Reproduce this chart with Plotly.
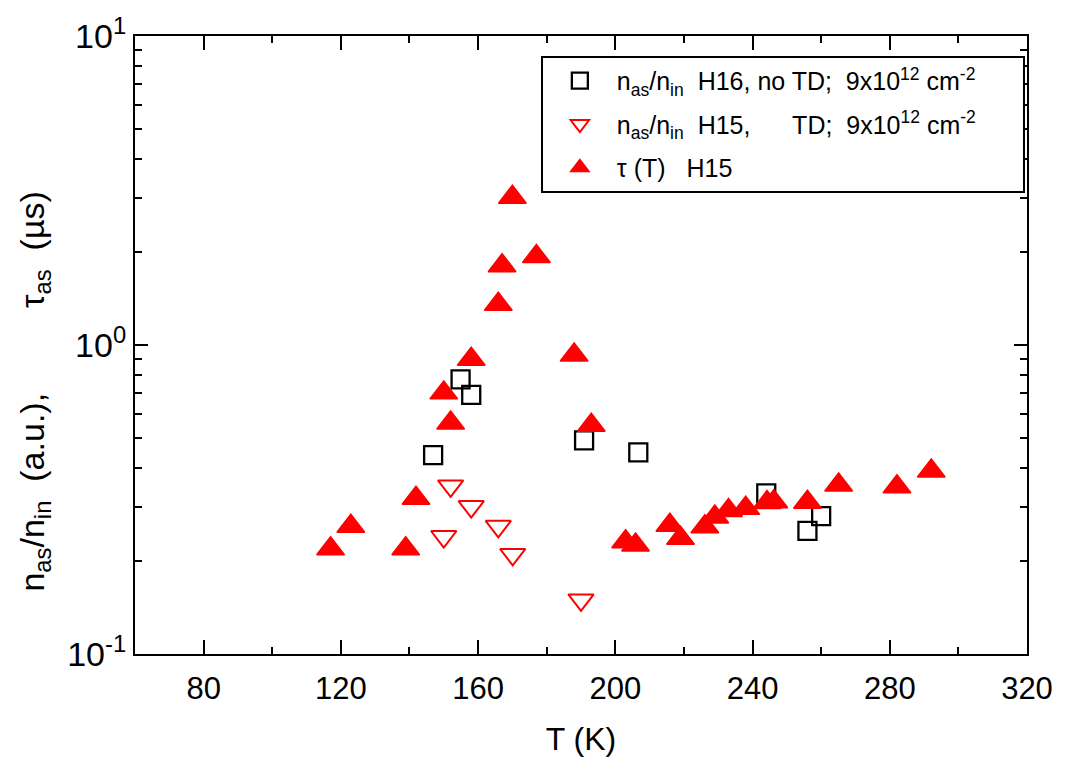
import plotly.graph_objects as go

# --- data ---
T_sq = [154.9, 158.0, 146.9, 190.9, 206.7, 244.0, 260.0, 256.0]
n_sq = [0.774, 0.690, 0.440, 0.491, 0.449, 0.331, 0.2795, 0.2504]

T_tri_down = [152.0, 158.0, 165.9, 150.0, 170.1, 190.0]
n_tri_down = [0.350, 0.300, 0.259, 0.240, 0.210, 0.1496]

T_tau = [117.0, 122.9, 138.9, 141.9, 152.0, 150.0, 158.0, 165.9, 167.0, 177.0,
         170.0, 188.0, 193.0, 203.0, 205.9, 215.9, 219.0, 226.1, 229.0, 233.0,
         238.0, 244.2, 246.2, 256.0, 265.1, 282.1, 292.1]
tau = [0.219, 0.259, 0.219, 0.319, 0.559, 0.700, 0.899, 1.354, 1.806, 1.934,
       3.009, 0.929, 0.550, 0.231, 0.2255, 0.261, 0.237, 0.258, 0.2775, 0.2914,
       0.2963, 0.309, 0.311, 0.310, 0.3525, 0.348, 0.391]

x_major = [80, 120, 160, 200, 240, 280, 320]
x_minor = [100, 140, 180, 220, 260, 300]
y_major = [0.1, 1, 10]
y_major_text = ["10<sup>-1</sup>", "10<sup>0</sup>", "10<sup>1</sup>"]
y_minor = [0.2, 0.3, 0.4, 0.5, 0.6, 0.7, 0.8, 0.9, 2, 3, 4, 5, 6, 7, 8, 9]

NB = "\u00a0"
legend_names = [
    "n<sub>as</sub>/n<sub>in</sub>" + NB * 2 + "H16, no TD;" + NB * 2 + "9x10<sup>12</sup> cm<sup>-2</sup>" + NB * 6,
    "n<sub>as</sub>/n<sub>in</sub>" + NB * 2 + "H15," + NB * 6 + "TD;" + NB * 2 + "9x10<sup>12</sup> cm<sup>-2</sup>",
    "\u03c4 (T)" + NB * 3 + "H15",
]
y_title = ("n<sub>as</sub>/n<sub>in</sub>" + NB * 2 + "(a.u.)," + NB * 9
           + "\u03c4<sub>as</sub>" + NB * 2 + "(\u00b5s)")

FONT = "Liberation Sans, Arial, sans-serif"

fig = go.Figure()
fig.add_trace(go.Scatter(
    x=T_sq, y=n_sq, mode="markers", name=legend_names[0], legendgroup="a",
    marker=dict(symbol="square-open", size=18, color="black", line=dict(width=2.3, color="black")),
))
fig.add_trace(go.Scatter(
    x=T_tri_down, y=n_tri_down, mode="markers", name=legend_names[1], legendgroup="b",
    marker=dict(symbol="triangle-down-open", size=22, color="red", line=dict(width=2, color="red")),
))
fig.add_trace(go.Scatter(
    x=T_tau, y=tau, mode="markers", name=legend_names[2], legendgroup="c",
    marker=dict(symbol="triangle-up", size=24, color="red", line=dict(width=1.5, color="red")),
))

axis_common = dict(
    showline=True, linecolor="black", linewidth=2, mirror="ticks",
    ticks="inside", tickcolor="black", tickwidth=2,
    showgrid=False, zeroline=False,
)

fig.update_xaxes(
    range=[60, 320], tickmode="array", tickvals=x_major, ticklen=14,
    tickfont=dict(size=31, family=FONT, color="black"),
    ticklabelstandoff=6,
    title=dict(text="T (K)", font=dict(size=32, family=FONT, color="black"), standoff=22),
    minor=dict(tickmode="array", tickvals=x_minor, ticks="inside", ticklen=7, tickwidth=2, tickcolor="black"),
    **axis_common,
)
fig.update_yaxes(
    type="log", range=[-1, 1], tickmode="array", tickvals=y_major, ticktext=y_major_text,
    ticklen=13, tickfont=dict(size=34, family=FONT, color="black"),
    minor=dict(tickmode="array", tickvals=y_minor, ticks="inside", ticklen=7, tickwidth=2, tickcolor="black"),
    **axis_common,
)

fig.add_annotation(
    text=y_title, textangle=-90, xref="paper", yref="paper",
    x=-0.113, y=0.425, xanchor="center", yanchor="middle", showarrow=False,
    font=dict(size=34, family=FONT, color="black"),
)

fig.update_layout(
    width=1065, height=763,
    margin=dict(l=135, r=34, t=27, b=107),
    paper_bgcolor="white", plot_bgcolor="white",
    font=dict(family=FONT, color="black"),
    showlegend=True,
    legend=dict(
        x=0.455, y=0.968, xanchor="left", yanchor="top",
        bgcolor="white", bordercolor="black", borderwidth=2,
        font=dict(size=25, family=FONT, color="black"),
        itemwidth=64, tracegroupgap=8, traceorder="grouped",
    ),
)

fig.write_html("out.html")
